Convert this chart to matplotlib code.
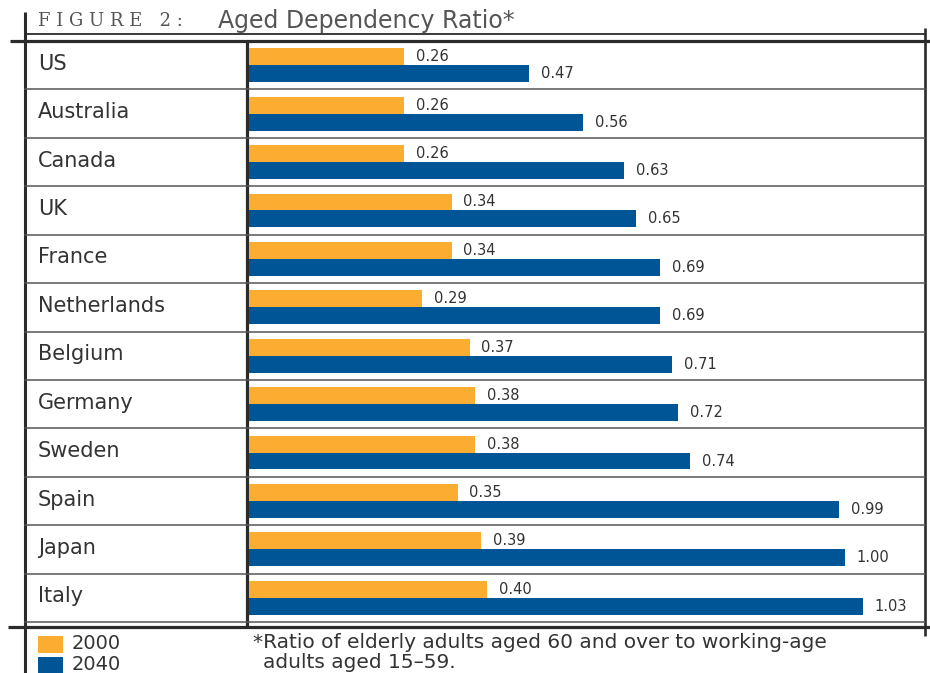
import matplotlib
matplotlib.use("Agg")
import matplotlib.pyplot as plt
from matplotlib.transforms import blended_transform_factory
from matplotlib.patches import Rectangle

countries = ["US", "Australia", "Canada", "UK", "France", "Netherlands",
             "Belgium", "Germany", "Sweden", "Spain", "Japan", "Italy"]
ratio_2000 = [0.26, 0.26, 0.26, 0.34, 0.34, 0.29, 0.37, 0.38, 0.38, 0.35, 0.39, 0.40]
ratio_2040 = [0.47, 0.56, 0.63, 0.65, 0.69, 0.69, 0.71, 0.72, 0.74, 0.99, 1.00, 1.03]
years = ["2000", "2040"]

ORANGE = "#fbad31"
BLUE = "#005596"
INK = "#2b2b2b"
TXT = "#333333"

W, H = 930, 673
fig = plt.figure(figsize=(W / 100, H / 100), dpi=100)

# frame layer in pixel units, y pointing down
frame = fig.add_axes([0, 0, 1, 1])
frame.set_xlim(0, W)
frame.set_ylim(H, 0)
frame.axis("off")

# bar panel
ax = fig.add_axes([249 / W, 1 - 622 / H, (925 - 249) / W, (622 - 41) / H])
ax.patch.set_visible(False)
ax.axis("off")
ax.set_xlim(0, 676 / 596)
n = len(countries)
ax.set_ylim(n - 0.5, -0.5)

ypos = list(range(n))
h = 0.35
b1 = ax.barh([y - h / 2 for y in ypos], ratio_2000, height=h, color=ORANGE, zorder=3)
b2 = ax.barh([y + h / 2 for y in ypos], ratio_2040, height=h, color=BLUE, zorder=3)

for bars, vals in ((b1, ratio_2000), (b2, ratio_2040)):
    for bar, v in zip(bars, vals):
        ax.annotate("{:.2f}".format(v), (v, bar.get_y() + bar.get_height() / 2),
                    xytext=(8.5, 0), textcoords="offset points",
                    va="center", ha="left", fontsize=10.5, color=TXT)

# row labels and separators: x in pixels, y in rows
rows = blended_transform_factory(frame.transData, ax.transData)
for i, name in enumerate(countries):
    ax.text(38, i - 0.03, name, transform=rows, fontsize=15, color=TXT,
            va="center", ha="left", clip_on=False)
    ax.plot([25, 925], [i + 0.5, i + 0.5], transform=rows, color="#555555",
            lw=1.1, clip_on=False, zorder=1)

# outer rules
rule = dict(color=INK, solid_capstyle="butt")
frame.plot([25, 25], [12, 673], lw=2.2, **rule)
frame.plot([25, 925], [34, 34], lw=1.3, **rule)
frame.plot([10, 930], [41, 41], lw=2.3, **rule)
frame.plot([925, 925], [28, 636], lw=1.9, **rule)
frame.plot([247, 247], [41, 627], lw=2.3, **rule)
frame.plot([8, 930], [627, 627], lw=2.3, **rule)

# title
frame.text(38, 21, "F I G U R E   2 :", fontsize=13, family="DejaVu Serif",
           color="#555555", va="center", ha="left")
frame.text(218, 21, "Aged Dependency Ratio*", fontsize=17, color="#555555",
           va="center", ha="left")

# legend
for k, (lab, col) in enumerate(zip(years, [ORANGE, BLUE])):
    y0 = 636 + k * 21
    frame.add_patch(Rectangle((38, y0), 25, 17, color=col, lw=0))
    frame.text(72, y0 + 7.5, lab, fontsize=14, color=TXT, va="center", ha="left")

# footnote
frame.text(253, 642, "*Ratio of elderly adults aged 60 and over to working-age",
           fontsize=14.5, color=TXT, va="center", ha="left")
frame.text(263, 662, "adults aged 15\u201359.", fontsize=14.5, color=TXT,
           va="center", ha="left")

fig.savefig("out.png", dpi=100)
